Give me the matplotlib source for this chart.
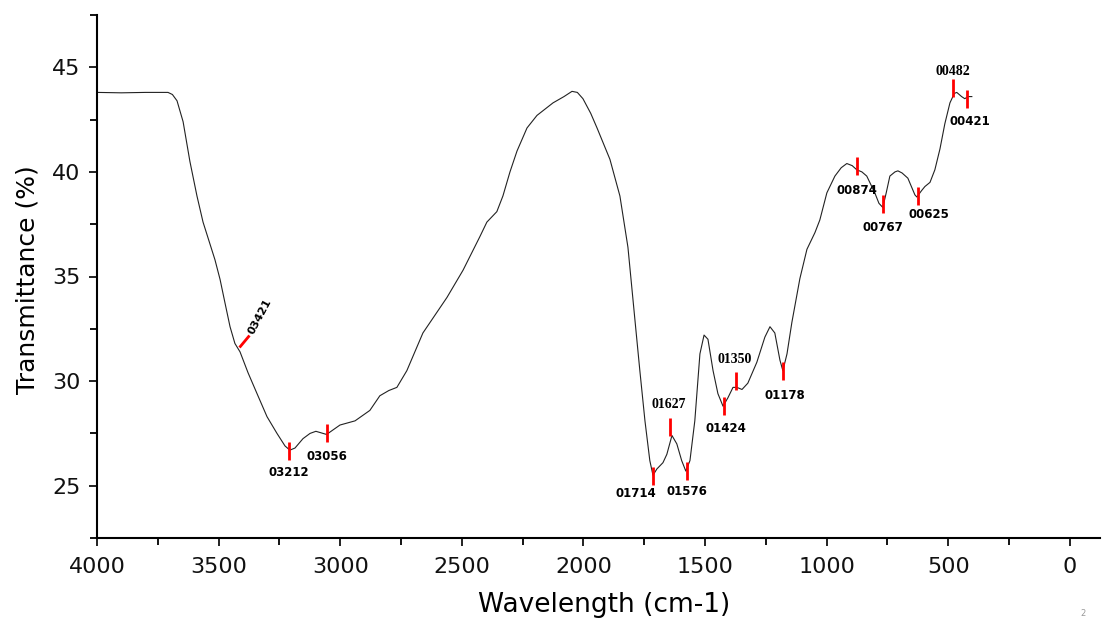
import matplotlib
matplotlib.use("Agg")
import matplotlib.pyplot as plt
from matplotlib.markers import MarkerStyle
from matplotlib.transforms import Affine2D
from matplotlib.ticker import MultipleLocator

# spectrum
wavenumber = [4000, 3900, 3800, 3708, 3690, 3671, 3646, 3618, 3589, 3564, 3515, 3494,
              3474, 3453, 3433, 3412, 3379, 3342, 3301, 3260, 3227, 3207, 3186, 3153,
              3124, 3100, 3056, 3001, 2939, 2878, 2837, 2800, 2767, 2726, 2660, 2561,
              2495, 2426, 2397, 2356, 2331, 2302, 2273, 2232, 2191, 2125, 2080, 2047,
              2025, 2002, 1970, 1944, 1891, 1850, 1817, 1788, 1768, 1747, 1727, 1714,
              1698, 1673, 1657, 1636, 1616, 1596, 1579, 1562, 1542, 1521, 1504, 1488,
              1467, 1447, 1426, 1406, 1385, 1369, 1348, 1324, 1287, 1254, 1233, 1213,
              1192, 1180, 1163, 1143, 1110, 1081, 1048, 1028, 999, 966, 940, 917, 895,
              876, 855, 835, 802, 785, 769, 755, 740, 719, 707, 690, 666, 637, 629, 610,
              596, 575, 555, 534, 514, 493, 475, 465, 445, 432, 418, 403]
transmittance = [43.8, 43.78, 43.8, 43.8, 43.7, 43.4, 42.4, 40.5, 38.85, 37.6, 35.8, 34.86,
                 33.75, 32.6, 31.8, 31.4, 30.4, 29.4, 28.3, 27.5, 26.9, 26.7, 26.8, 27.25,
                 27.5, 27.6, 27.45, 27.9, 28.1, 28.6, 29.3, 29.55, 29.7, 30.5, 32.3, 34.0,
                 35.3, 36.9, 37.6, 38.1, 38.85, 40.0, 41.0, 42.1, 42.7, 43.3, 43.6, 43.85,
                 43.8, 43.5, 42.8, 42.1, 40.6, 38.85, 36.4, 32.9, 30.5, 28.1, 26.2, 25.5,
                 25.8, 26.1, 26.5, 27.4, 27.0, 26.2, 25.7, 26.2, 28.1, 31.3, 32.2, 32.0,
                 30.5, 29.4, 28.8, 29.2, 29.7, 29.7, 29.6, 29.9, 30.9, 32.1, 32.6, 32.3,
                 31.0, 30.5, 31.3, 32.8, 34.9, 36.3, 37.1, 37.7, 39.0, 39.8, 40.2, 40.4, 40.3,
                 40.1, 40.0, 39.8, 39.0, 38.5, 38.3, 39.0, 39.8, 40.0, 40.05, 39.95, 39.7, 38.9,
                 38.8, 39.1, 39.3, 39.5, 40.1, 41.1, 42.3, 43.3, 43.75, 43.8, 43.6, 43.5, 43.6,
                 43.6]

# peak markers (drawn where they sit in the picture) and their labels
peak_pos = [3394, 3212, 3056, 1714, 1644, 1576, 1424, 1373, 1178, 874, 767, 625, 482, 421]
peak_y = [31.9, 26.68, 27.5, 25.48, 27.8, 25.7, 28.8, 30.0, 30.46, 40.26, 38.46, 38.85, 43.99, 43.5]
peak_text = ["03421", "03212", "03056", "01714", "01627", "01576", "01424", "01350",
             "01178", "00874", "00767", "00625", "00482", "00421"]
above = ["01627", "01350", "00482"]
label_off = {"03421": (16, 25), "03212": (0, -22), "03056": (0, -23), "01714": (-17, -18),
             "01627": (-1, 23), "01576": (0, -20), "01424": (2, -22), "01350": (-1, 22),
             "01178": (2, -24), "00874": (0, -24), "00767": (0, -23), "00625": (11, -19),
             "00482": (0, 17), "00421": (2, -23)}

fig = plt.figure(figsize=(11.02, 6.19), dpi=100)
ax = fig.add_axes([97 / 1102, 1 - 538 / 619, 1003 / 1102, 523 / 619])

ax.plot(wavenumber, transmittance, color="#222222", lw=0.8)

for x, y, t in zip(peak_pos, peak_y, peak_text):
    if t == "03421":
        m = MarkerStyle("|", transform=Affine2D().rotate_deg(-38))
        ax.plot(x, y, marker=m, ms=11, mew=2, color="red", ls="none")
        ax.annotate(t, (x, y), xytext=label_off[t], textcoords="offset pixels",
                    ha="center", va="center", rotation=62, fontsize=8,
                    fontweight="bold", family="DejaVu Sans")
        continue
    ax.plot(x, y, marker="|", ms=13.5, mew=2, color="red", ls="none")
    if t in above:
        ax.annotate(t, (x, y), xytext=label_off[t], textcoords="offset pixels",
                    ha="center", va="center", fontsize=10, fontweight="bold",
                    family="Liberation Serif")
    else:
        ax.annotate(t, (x, y), xytext=label_off[t], textcoords="offset pixels",
                    ha="center", va="center", fontsize=8.5, fontweight="bold",
                    family="DejaVu Sans")

ax.set_xlim(4000, -124)
ax.set_ylim(22.5, 47.5)
ax.set_xticks([4000, 3500, 3000, 2500, 2000, 1500, 1000, 500, 0])
ax.xaxis.set_minor_locator(MultipleLocator(250))
ax.set_yticks([25, 30, 35, 40, 45])
ax.yaxis.set_minor_locator(MultipleLocator(2.5))
ax.tick_params(which="major", direction="out", length=6, width=1.3, labelsize=16, colors="#111111")
ax.tick_params(which="minor", direction="out", length=5, width=1.3)
ax.tick_params(axis="x", pad=8)
ax.tick_params(axis="y", pad=6)

for s in ["top", "right"]:
    ax.spines[s].set_visible(False)
for s in ["left", "bottom"]:
    ax.spines[s].set_linewidth(1.5)

fig.text(604 / 1102, 1 - 605 / 619, "Wavelength (cm-1)", ha="center", va="center", fontsize=19)
fig.text(28 / 1102, 1 - 280 / 619, "Transmittance (%)", ha="center", va="center",
         rotation=90, fontsize=18)
fig.text(1083 / 1102, 1 - 614 / 619, "2", ha="center", va="center", fontsize=6, color="#999999")

fig.savefig("out.png", dpi=100)
